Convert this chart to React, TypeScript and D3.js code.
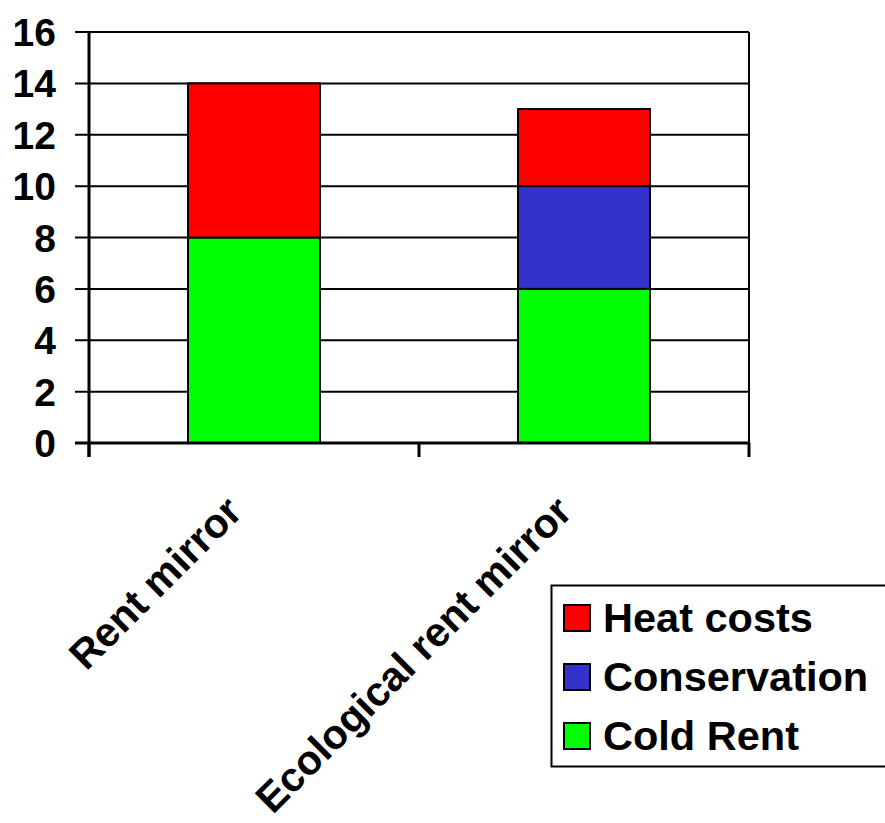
import React from "react";
import * as d3 from "d3";

// Categories and stacked series values
const categories = ["Rent mirror", "Ecological rent mirror"];
const seriesNames = ["Cold Rent", "Conservation", "Heat costs"];
const coldRent = [8, 6];
const conservation = [0, 4];
const heatCosts = [6, 3];
const seriesColors = ["#00FF00", "#3333CC", "#FF0000"];
const yTicks = [0, 2, 4, 6, 8, 10, 12, 14, 16];

const W = 885;
const H = 823;
const plot = { left: 89, right: 749, top: 32, bottom: 443 };
const FONT = "'Liberation Sans', Arial, Helvetica, sans-serif";

export default function App() {
  const x = d3
    .scaleBand<string>()
    .domain(categories)
    .range([plot.left, plot.right])
    .paddingInner(0)
    .paddingOuter(0);
  const y = d3.scaleLinear().domain([0, 16]).range([plot.bottom, plot.top]);

  const rows = categories.map((c, i) => ({
    category: c,
    "Cold Rent": coldRent[i],
    Conservation: conservation[i],
    "Heat costs": heatCosts[i],
  }));
  const stacked = d3.stack<any>().keys(seriesNames)(rows);

  const band = x.bandwidth();
  const barW = band / 2.5; // gap width 150%

  // legend entries listed top-down: Heat costs, Conservation, Cold Rent
  const legendOrder = [2, 1, 0];

  return (
    <svg
      width={W}
      height={H}
      style={{ position: "absolute", left: 0, top: 0, background: "#fff" }}
      fontFamily={FONT}
      fontWeight="bold"
    >
      {/* gridlines and left tick marks */}
      {yTicks.map((t) => (
        <g key={t}>
          <line
            x1={plot.left - 14}
            x2={plot.right}
            y1={y(t)}
            y2={y(t)}
            stroke="#000"
            strokeWidth={2}
          />
          <text
            x={56}
            y={y(t) + 14}
            textAnchor="end"
            fontSize={39}
            fill="#000"
          >
            {t}
          </text>
        </g>
      ))}

      {/* stacked bars */}
      {stacked.map((layer, si) =>
        layer.map((d, ci) =>
          d[1] - d[0] > 0 ? (
            <rect
              key={`${si}-${ci}`}
              x={(x(categories[ci]) as number) + (band - barW) / 2}
              y={y(d[1])}
              width={barW}
              height={y(d[0]) - y(d[1])}
              fill={seriesColors[si]}
              stroke="#000"
              strokeWidth={2}
            />
          ) : null
        )
      )}

      {/* plot frame */}
      <line x1={plot.right} x2={plot.right} y1={plot.top} y2={plot.bottom} stroke="#000" strokeWidth={2} />
      <line x1={plot.left} x2={plot.left} y1={plot.top - 1} y2={plot.bottom + 14} stroke="#000" strokeWidth={3} />
      <line x1={plot.left - 14} x2={plot.right + 1} y1={plot.bottom} y2={plot.bottom} stroke="#000" strokeWidth={3} />

      {/* category tick marks */}
      {[...categories.map((c) => x(c) as number), plot.right].map((px, i) => (
        <line key={i} x1={px} x2={px} y1={plot.bottom} y2={plot.bottom + 14} stroke="#000" strokeWidth={3} />
      ))}

      {/* rotated category labels */}
      {categories.map((c) => {
        const cx = (x(c) as number) + band / 2 - 10;
        const cy = 514;
        return (
          <text
            key={c}
            transform={`translate(${cx},${cy}) rotate(-45)`}
            textAnchor="end"
            fontSize={41}
            fill="#000"
          >
            {c}
          </text>
        );
      })}

      {/* legend */}
      <rect x={551.5} y={585.5} width={360} height={181} fill="#fff" stroke="#000" strokeWidth={2} />
      {legendOrder.map((si, r) => {
        const top = 605 + r * 59;
        return (
          <g key={si}>
            <rect x={564} y={top} width={26} height={26} fill={seriesColors[si]} stroke="#000" strokeWidth={2} />
            <text x={603} y={top + 27} fontSize={41.5} fill="#000">
              {seriesNames[si]}
            </text>
          </g>
        );
      })}
    </svg>
  );
}
